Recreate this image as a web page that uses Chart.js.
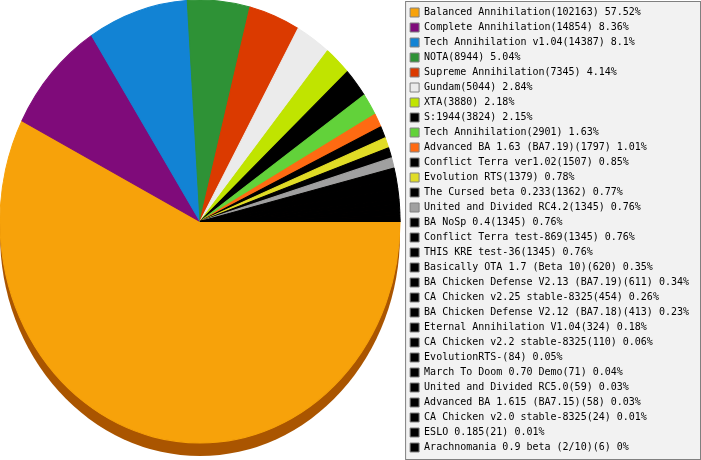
<!DOCTYPE html>
<html>
<head>
<meta charset="utf-8">
<script src="https://cdn.jsdelivr.net/npm/chart.js@4/dist/chart.umd.min.js"></script>
<style>
  body { margin: 0; background: #fff; }
  #wrap { width: 701px; height: 460px; position: relative; }
</style>
</head>
<body>
<div id="wrap"><canvas id="mods-chart"></canvas></div>
<script>
const mods = [
  'Balanced Annihilation', 'Complete Annihilation', 'Tech Annihilation v1.04', 'NOTA',
  'Supreme Annihilation', 'Gundam', 'XTA', 'S:1944', 'Tech Annihilation',
  'Advanced BA 1.63 (BA7.19)', 'Conflict Terra ver1.02', 'Evolution RTS',
  'The Cursed beta 0.233', 'United and Divided RC4.2', 'BA NoSp 0.4',
  'Conflict Terra test-869', 'THIS KRE test-36', 'Basically OTA 1.7 (Beta 10)',
  'BA Chicken Defense V2.13 (BA7.19)', 'CA Chicken v2.25 stable-8325',
  'BA Chicken Defense V2.12 (BA7.18)', 'Eternal Annihilation V1.04',
  'CA Chicken v2.2 stable-8325', 'EvolutionRTS-', 'March To Doom 0.70 Demo',
  'United and Divided RC5.0', 'Advanced BA 1.615 (BA7.15)',
  'CA Chicken v2.0 stable-8325', 'ESLO 0.185', 'Arachnomania 0.9 beta (2/10)'
];
const games = [
  102163, 14854, 14387, 8944, 7345, 5044, 3880, 3824, 2901, 1797,
  1507, 1379, 1362, 1345, 1345, 1345, 1345, 620, 611, 454,
  413, 324, 110, 84, 71, 59, 58, 24, 21, 6
];
const percents = [
  '57.52', '8.36', '8.1', '5.04', '4.14', '2.84', '2.18', '2.15', '1.63', '1.01',
  '0.85', '0.78', '0.77', '0.76', '0.76', '0.76', '0.76', '0.35', '0.34', '0.26',
  '0.23', '0.18', '0.06', '0.05', '0.04', '0.03', '0.03', '0.01', '0.01', '0'
];
const colors = [
  '#f7a20a', '#7f0b7a', '#1283d4', '#2e9236', '#db3a00', '#ebebeb', '#c0e400',
  '#000000', '#62d23a', '#fe6a12', '#000000', '#e0dc26', '#000000', '#a0a0a0',
  '#000000', '#000000', '#000000', '#000000', '#000000', '#000000', '#000000',
  '#000000', '#000000', '#000000', '#000000', '#000000', '#000000', '#000000',
  '#000000', '#000000'
];

const DEPTH = 13;     // height of the dark rim
const ASPECT = 0.903; // pie width / height

// nudge the legend left a little and paint a gray box behind it
const legendBox = {
  id: 'legendBox',
  afterLayout(chart) {
    const l = chart.legend;
    l.left -= 2;
    l.right -= 2;
  },
  beforeDraw(chart) {
    const l = chart.legend;
    const ctx = chart.ctx;
    ctx.save();
    ctx.fillStyle = '#f2f2f2';
    ctx.strokeStyle = '#808080';
    ctx.lineWidth = 1;
    const x = l.left + 0.5, y = l.top + 1.5;
    const w = chart.width - 0.5 - x, h = l.bottom - 0.5 - y;
    ctx.fillRect(x, y, w, h);
    ctx.strokeRect(x, y, w, h);
    ctx.restore();
  }
};

// squash the pie into an ellipse and give it a dark rim underneath
const tiltedPie = {
  id: 'tiltedPie',
  beforeDatasetsDraw(chart) {
    const arc = chart.getDatasetMeta(0).data[0];
    if (!arc) return;
    const area = chart.chartArea;
    const r = arc.outerRadius;
    const ry = (area.bottom - area.top - DEPTH - 4) / 2;
    const rx = ry * ASPECT;
    const cy = area.top + ry;
    const cx = area.left + rx;
    const ctx = chart.ctx;
    ctx.save();
    // rim
    ctx.fillStyle = '#aa5500';
    ctx.beginPath();
    ctx.ellipse(cx, cy + DEPTH, rx, ry, 0, 0, Math.PI * 2);
    ctx.fill();
    ctx.translate(cx, cy);
    ctx.scale(rx / r, ry / r);
    ctx.translate(-arc.x, -arc.y);
  },
  afterDatasetsDraw(chart) {
    if (chart.getDatasetMeta(0).data[0]) chart.ctx.restore();
  }
};

function createChart() {
  const ctx = document.getElementById('mods-chart').getContext('2d');
  new Chart(ctx, {
    type: 'pie',
    data: {
      labels: mods,
      datasets: [{
        data: games,
        backgroundColor: colors,
        borderColor: colors,
        borderWidth: 1,
      }],
    },
    options: {
      responsive: true,
      maintainAspectRatio: false,
      animation: false,
      events: [],
      rotation: 90,
      layout: { padding: 0 },
      plugins: {
        tooltip: { enabled: false },
        legend: {
          position: 'right',
          labels: {
            boxWidth: 9,
            boxHeight: 9,
            padding: 5,
            color: '#000',
            font: { family: 'DejaVu Sans Mono', size: 10 },
            generateLabels() {
              return mods.map((name, i) => ({
                text: name + '(' + games[i] + ') ' + percents[i] + '%',
                fillStyle: colors[i],
                strokeStyle: '#808080',
                lineWidth: 1,
                hidden: false,
                index: i,
              }));
            },
          },
        },
      },
    },
    plugins: [legendBox, tiltedPie],
  });
}

createChart();
</script>
</body>
</html>
